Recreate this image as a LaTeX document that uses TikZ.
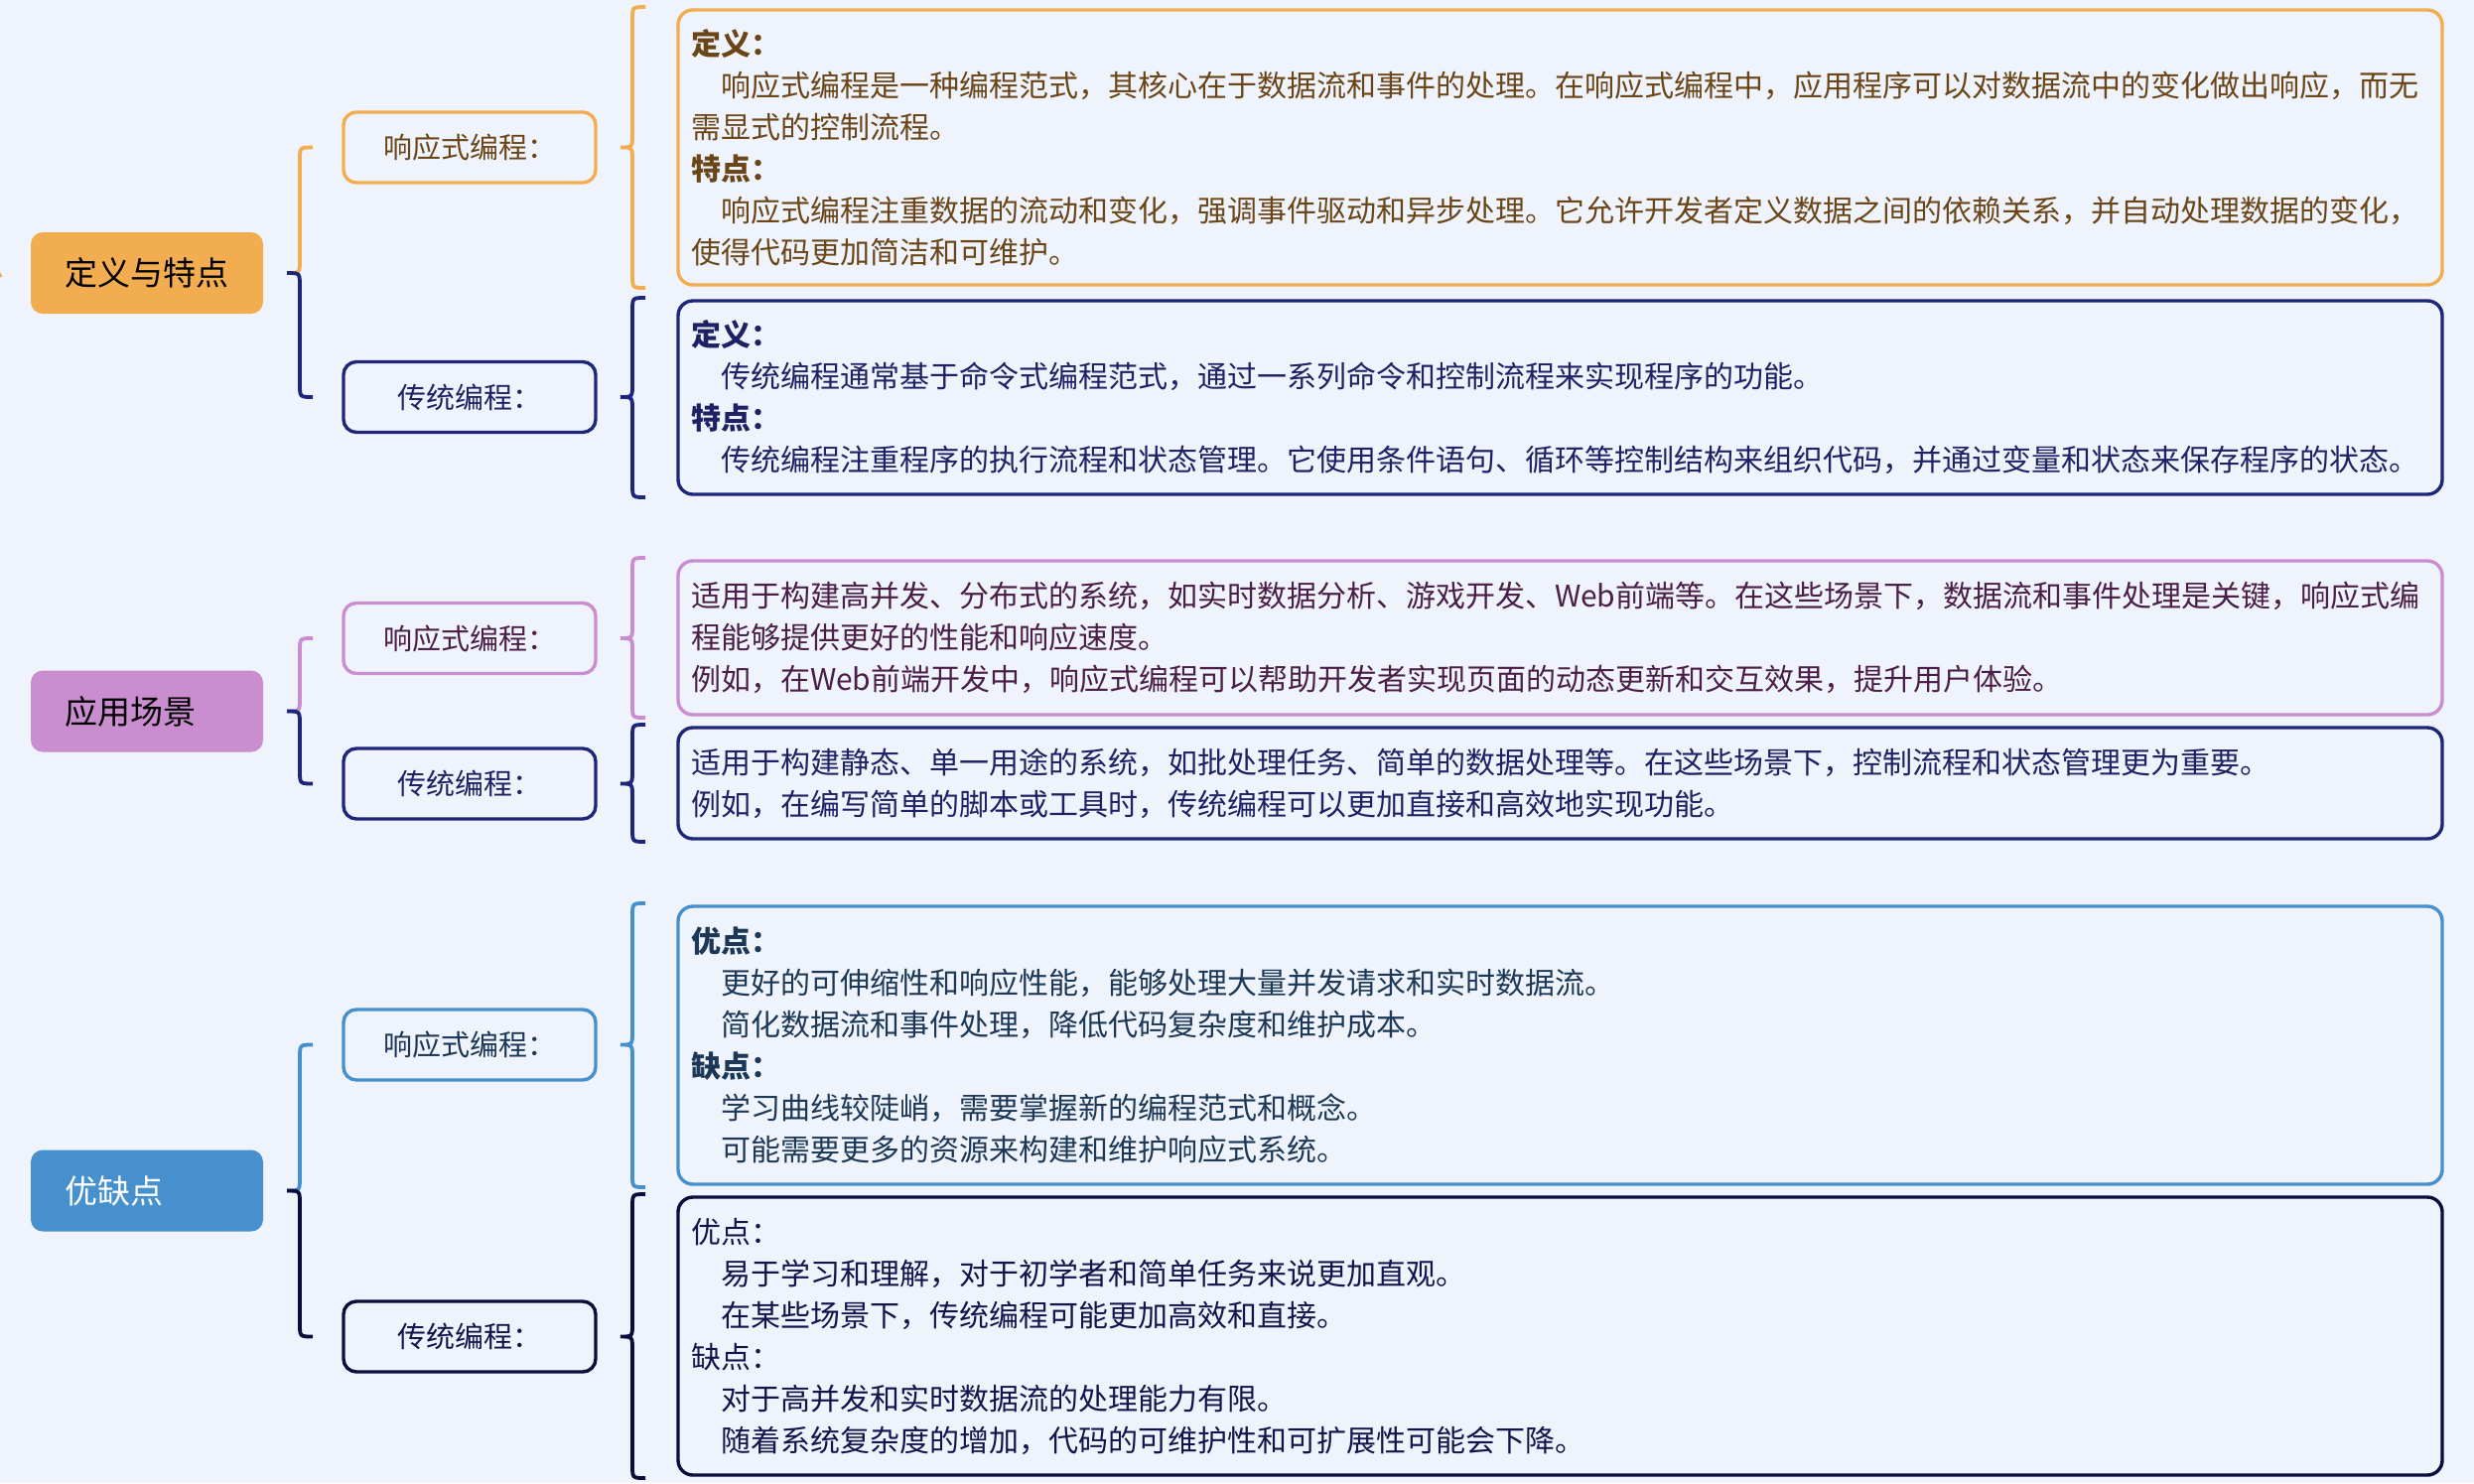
\documentclass[tikz,border=0pt]{standalone}
\usepackage{fontspec}
\setmainfont{Noto Sans CJK SC}
\usetikzlibrary{calc}
\definecolor{bg}{HTML}{EEF3FC}
\definecolor{ora}{HTML}{F2AD50}
\definecolor{oratx}{HTML}{6A4517}
\definecolor{nav}{HTML}{1E2679}
\definecolor{navtx}{HTML}{1E2163}
\definecolor{pur}{HTML}{C98DD0}
\definecolor{purtx}{HTML}{4A1E47}
\definecolor{blu}{HTML}{4690CD}
\definecolor{blutx}{HTML}{1C3856}
\definecolor{drk}{HTML}{0E0C3B}
\definecolor{drktx}{HTML}{15134B}
\newcommand{\RootBrace}[5]{%
  \coordinate (rbT) at ($(#1.east)+(24,0)$);
  \coordinate (rbV) at ($(#1.east)+(37,0)$);
  \coordinate (rbA) at (rbV |- #2.west);
  \coordinate (rbM) at (rbV |- #1.east);
  \coordinate (rbB) at (rbV |- #3.west);
  \draw[brc,#4] ($(#2.west)+(-31,0)$) .. controls (rbA) .. ($(rbA)+(0,13)$) -- ($(rbM)+(0,-13)$) .. controls (rbM) .. (rbT);
  \draw[brc,#5] (rbT) .. controls (rbM) .. ($(rbM)+(0,13)$) -- ($(rbB)+(0,-13)$) .. controls (rbB) .. ($(#3.west)+(-31,0)$);
}
\newcommand{\DetBrace}[3]{%
  \coordinate (dbT) at ($(#1.east)+(25,0)$);
  \coordinate (dbV) at ($(#1.east)+(37,0)$);
  \coordinate (dbE) at ($(#2.west)+(-33,0)$);
  \coordinate (dbM) at (dbV |- #1.east);
  \coordinate (dbAo) at (dbV |- #2.north);
  \coordinate (dbA) at ($(dbAo)+(0,-3)$);
  \coordinate (dbEo) at (dbE |- #2.north);
  \coordinate (dbEa) at ($(dbEo)+(0,-3)$);
  \coordinate (dbBo) at (dbV |- #2.south);
  \coordinate (dbB) at ($(dbBo)+(0,3)$);
  \coordinate (dbFo) at (dbE |- #2.south);
  \coordinate (dbEb) at ($(dbFo)+(0,3)$);
  \draw[brc,#3] (dbEa) .. controls (dbA) .. ($(dbA)+(0,13)$) -- ($(dbM)+(0,-13)$) .. controls (dbM) .. (dbT) .. controls (dbM) .. ($(dbM)+(0,13)$) -- ($(dbB)+(0,-13)$) .. controls (dbB) .. (dbEb);
}
\newcommand{\ind}{\hspace*{15pt}}
\begin{document}
\begin{tikzpicture}[x=0.5pt,y=-0.5pt,
  rootbox/.style={rounded corners=6pt, minimum width=117pt, minimum height=41pt,
    text width=83pt, inner xsep=17pt, inner ysep=0pt, outer sep=0pt, align=left,
    font=\fontsize{16.5pt}{20pt}\selectfont},
  childbox/.style={draw, line width=1.7pt, rounded corners=6.5pt, fill=bg,
    minimum width=127pt, minimum height=35.5pt, outer sep=0pt, inner sep=0pt,
    font=\fontsize{14.5pt}{18pt}\selectfont},
  detbox/.style={draw, line width=1.7pt, rounded corners=7.5pt, fill=bg,
    anchor=north west, minimum width=888.5pt, text width=875.5pt,
    inner xsep=6.5pt, inner ysep=0pt, outer sep=0pt, align=left,
    font=\fontsize{15pt}{21pt}\selectfont},
  brc/.style={line width=1.9pt}]
\fill[bg] (0,0) rectangle (2492,1494);
\useasboundingbox (0,0) rectangle (2492,1494);
\coordinate (stubA) at (-4,270);
\coordinate (stubB) at (1,279);
\draw[ora, line width=1.5pt] (stubA) -- (stubB);

% ---------- section 1 ----------
\node[rootbox, fill=ora, text=black] (R1) at (148,275) {定义与特点};
\node[childbox, draw=ora, text=oratx] (A1) at (473,148.5) {响应式编程：};
\node[childbox, draw=nav, text=navtx] (B1) at (473,400) {传统编程：};
\node[detbox, draw=ora, text=oratx, minimum height=138.5pt] (D1) at (683,10) {%
\textbf{定义：}\\
\ind 响应式编程是一种编程范式，其核心在于数据流和事件的处理。在响应式编程中，应用程序可以对数据流中的变化做出响应，而无\\
需显式的控制流程。\\
\textbf{特点：}\\
\ind 响应式编程注重数据的流动和变化，强调事件驱动和异步处理。它允许开发者定义数据之间的依赖关系，并自动处理数据的变化，\\
使得代码更加简洁和可维护。};
\node[detbox, draw=nav, text=navtx, minimum height=97.5pt] (D2) at (683,303) {%
\textbf{定义：}\\
\ind 传统编程通常基于命令式编程范式，通过一系列命令和控制流程来实现程序的功能。\\
\textbf{特点：}\\
\ind 传统编程注重程序的执行流程和状态管理。它使用条件语句、循环等控制结构来组织代码，并通过变量和状态来保存程序的状态。};
\RootBrace{R1}{A1}{B1}{ora}{nav}
\DetBrace{A1}{D1}{ora}
\DetBrace{B1}{D2}{nav}

% ---------- section 2 ----------
\node[rootbox, fill=pur, text=black] (R2) at (148,716.5) {应用场景};
\node[childbox, draw=pur, text=purtx] (A2) at (473,643) {响应式编程：};
\node[childbox, draw=nav, text=navtx] (B2) at (473,789.5) {传统编程：};
\node[detbox, draw=pur, text=purtx, minimum height=77.5pt] (D3) at (683,565) {%
适用于构建高并发、分布式的系统，如实时数据分析、游戏开发、Web前端等。在这些场景下，数据流和事件处理是关键，响应式编\\
程能够提供更好的性能和响应速度。\\
例如，在Web前端开发中，响应式编程可以帮助开发者实现页面的动态更新和交互效果，提升用户体验。};
\node[detbox, draw=nav, text=navtx, minimum height=56pt] (D4) at (683,733) {%
适用于构建静态、单一用途的系统，如批处理任务、简单的数据处理等。在这些场景下，控制流程和状态管理更为重要。\\
例如，在编写简单的脚本或工具时，传统编程可以更加直接和高效地实现功能。};
\RootBrace{R2}{A2}{B2}{pur}{nav}
\DetBrace{A2}{D3}{pur}
\DetBrace{B2}{D4}{nav}

% ---------- section 3 ----------
\node[rootbox, fill=blu, text=white] (R3) at (148,1199.5) {优缺点};
\node[childbox, draw=blu, text=blutx] (A3) at (473,1052.5) {响应式编程：};
\node[childbox, draw=drk, text=drktx] (B3) at (473,1346.5) {传统编程：};
\node[detbox, draw=blu, text=blutx, minimum height=140pt] (D5) at (683,913) {%
\textbf{优点：}\\
\ind 更好的可伸缩性和响应性能，能够处理大量并发请求和实时数据流。\\
\ind 简化数据流和事件处理，降低代码复杂度和维护成本。\\
\textbf{缺点：}\\
\ind 学习曲线较陡峭，需要掌握新的编程范式和概念。\\
\ind 可能需要更多的资源来构建和维护响应式系统。};
\node[detbox, draw=drk, text=drktx, minimum height=140pt] (D6) at (683,1206) {%
优点：\\
\ind 易于学习和理解，对于初学者和简单任务来说更加直观。\\
\ind 在某些场景下，传统编程可能更加高效和直接。\\
缺点：\\
\ind 对于高并发和实时数据流的处理能力有限。\\
\ind 随着系统复杂度的增加，代码的可维护性和可扩展性可能会下降。};
\RootBrace{R3}{A3}{B3}{blu}{drk}
\DetBrace{A3}{D5}{blu}
\DetBrace{B3}{D6}{drk}
\end{tikzpicture}
\end{document}
